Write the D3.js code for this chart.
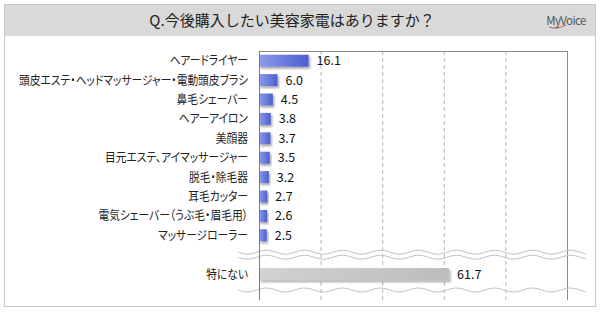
<!DOCTYPE html>
<html>
<head>
<meta charset="utf-8">
<script src="https://cdn.jsdelivr.net/npm/d3@7"></script>
<style>
  body { margin: 0; background: #fff; }
  text { font-family: "Noto Sans CJK JP", "Noto Sans", sans-serif; }
</style>
</head>
<body>
<script>
// data
var categories = ["ヘアードライヤー", "頭皮エステ・ヘッドマッサージャー・電動頭皮ブラシ", "鼻毛シェーバー",
  "ヘアーアイロン", "美顔器", "目元エステ、アイマッサージャー", "脱毛・除毛器", "耳毛カッター",
  "電気シェーバー（うぶ毛・眉毛用）", "マッサージローラー"];
var values = [16.1, 6.0, 4.5, 3.8, 3.7, 3.5, 3.2, 2.7, 2.6, 2.5];
var noneLabel = "特にない";
var noneValue = 61.7;
var xTicks = [20, 40, 60, 80];
var title = "Q.今後購入したい美容家電はありますか？";

var W = 600, H = 312;
var svg = d3.select("body").append("svg").attr("width", W).attr("height", H);

var defs = svg.append("defs");
var gb = defs.append("linearGradient").attr("id", "gblue");
gb.append("stop").attr("offset", "0%").attr("stop-color", "#8c9bea");
gb.append("stop").attr("offset", "100%").attr("stop-color", "#4d5fd0");
var gg = defs.append("linearGradient").attr("id", "ggray");
gg.append("stop").attr("offset", "0%").attr("stop-color", "#d2d2d2");
gg.append("stop").attr("offset", "100%").attr("stop-color", "#bcbcbc");
var sh = defs.append("filter").attr("id", "shadow").attr("x", "-10%").attr("y", "-30%").attr("width", "130%").attr("height", "180%");
sh.append("feDropShadow").attr("dx", 1.5).attr("dy", 2).attr("stdDeviation", 1.2)
  .attr("flood-color", "#000").attr("flood-opacity", 0.35);

// frame + title bar
svg.append("rect").attr("x", 4.5).attr("y", 4.5).attr("width", 591).attr("height", 302)
  .attr("fill", "#fff").attr("stroke", "#c6c6c6");
svg.append("rect").attr("x", 5).attr("y", 5).attr("width", 590).attr("height", 31).attr("fill", "#d9d9d9");
svg.append("text").attr("x", 292).attr("y", 26).attr("text-anchor", "middle")
  .attr("font-size", 15).attr("fill", "#222").text(title);
svg.append("text").attr("x", 566).attr("y", 25).attr("text-anchor", "middle")
  .attr("font-size", 11.5).attr("fill", "#555").attr("font-family", "DejaVu Sans Condensed, sans-serif")
  .attr("letter-spacing", -0.6).text("MyVoice");
svg.append("path").attr("d", "M549,27 Q556,30 566,25").attr("fill", "none")
  .attr("stroke", "#c0392b").attr("stroke-width", 0.8);

// scales
var x = d3.scaleLinear().domain([0, 100]).range([259, 567]);
var slots = categories.concat(["_break", noneLabel]);
var y = d3.scaleBand().domain(slots).range([51, 51 + 19.4 * slots.length]).padding(0);
var barH = 12;
var plotTop = 51, plotBottom = 300;

var g = svg.append("g");

// gridlines
g.selectAll(".grid").data(xTicks).enter().append("line")
  .attr("x1", d => x(d) + 0.5).attr("x2", d => x(d) + 0.5).attr("y1", plotTop).attr("y2", plotBottom)
  .attr("stroke", "#b4b4b4").attr("stroke-dasharray", "4,3");

// box
g.append("line").attr("x1", x(0)).attr("x2", x(100)).attr("y1", plotTop + 0.5).attr("y2", plotTop + 0.5).attr("stroke", "#8a8a8a");
g.append("line").attr("x1", x(100) + 0.5).attr("x2", x(100) + 0.5).attr("y1", plotTop).attr("y2", plotBottom).attr("stroke", "#8a8a8a");

// bars
g.selectAll(".bar").data(values).enter().append("rect")
  .attr("x", x(0)).attr("y", (d, i) => y(categories[i]) + (y.bandwidth() - barH) / 2)
  .attr("width", d => x(d) - x(0)).attr("height", barH)
  .attr("fill", "url(#gblue)").attr("filter", "url(#shadow)");

g.append("rect").attr("x", x(0)).attr("y", y(noneLabel) + (y.bandwidth() - barH) / 2)
  .attr("width", x(noneValue) - x(0)).attr("height", barH)
  .attr("fill", "url(#ggray)").attr("filter", "url(#shadow)");

// labels (narrowed to match the proportional font of the original)
g.selectAll(".lab").data(categories.concat([noneLabel])).enter().append("text")
  .attr("transform", d => "translate(248," + (y(d) + y.bandwidth() / 2 + 4.5) + ") scale(0.86,1)")
  .attr("text-anchor", "end").attr("font-size", 12.5).attr("fill", "#222")
  .style("font-feature-settings", "'palt'").text(d => d);

g.selectAll(".val").data(values.concat([noneValue])).enter().append("text")
  .attr("x", d => x(d) + 8).attr("y", (d, i) => y(slots[i < categories.length ? i : slots.length - 1]) + y.bandwidth() / 2 + 4.5)
  .attr("font-size", 12.5).attr("fill", "#111").attr("font-family", "DejaVu Sans, sans-serif")
  .text(d => d.toFixed(1));

// break waves
function wave(y0) {
  var pts = d3.range(238, 588, 2).map(px => [px, y0 + 2 * Math.sin((px - 238) / 38 * 2 * Math.PI)]);
  return d3.line().curve(d3.curveBasis)(pts);
}
var yb = y("_break") + y.bandwidth() / 2;
[yb - 2.5, yb + 2.5, plotBottom - 10].forEach(function(wy) {
  g.append("path").attr("d", wave(wy)).attr("fill", "none").attr("stroke", "#c4c4c4").attr("stroke-width", 1);
});

// left axis
g.append("line").attr("x1", x(0) + 0.5).attr("x2", x(0) + 0.5).attr("y1", plotTop).attr("y2", plotBottom).attr("stroke", "#7a7a7a");
</script>
</body>
</html>
